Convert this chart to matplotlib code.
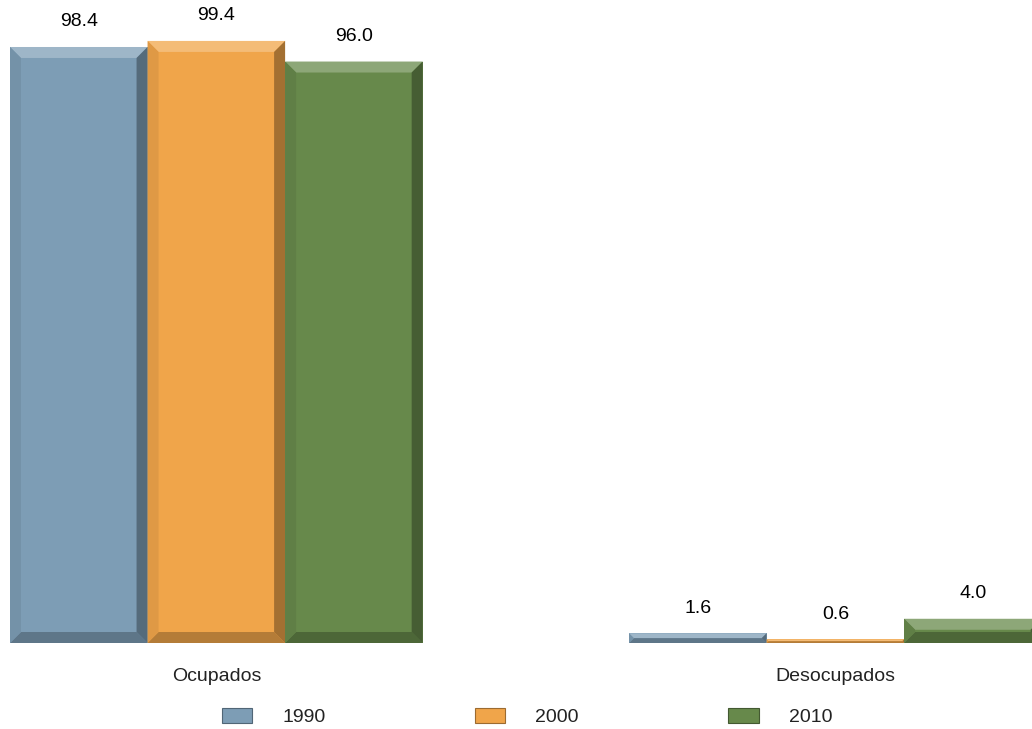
import matplotlib.pyplot as plt
from matplotlib.patches import Polygon, Patch
from matplotlib.colors import to_rgb
import numpy as np

plt.rcParams['font.family'] = ['Liberation Sans', 'DejaVu Sans']

# data
categories = ['Ocupados', 'Desocupados']
years = ['1990', '2000', '2010']
values = {
    '1990': [98.4, 1.6],
    '2000': [99.4, 0.6],
    '2010': [96.0, 4.0],
}
colors = {'1990': '#7d9db5', '2000': '#f0a54a', '2010': '#67894b'}


def shade(c, f):
    r = np.array(to_rgb(c))
    if f > 1:
        return tuple(r + (1 - r) * (f - 1))
    return tuple(r * f)


fig = plt.figure(figsize=(10.32, 7.29), dpi=100)
ax = fig.add_axes([10 / 1032, 86 / 729, 1022 / 1032, 643 / 729])

width = 1 / 4.5
x = np.arange(len(categories))
ax.set_xlim(-1.5 * width, -1.5 * width + 1022 / 619)
ax.set_ylim(0, 643 / 6.057)

# bevel size in data units (about 11 px)
bx = 11 / 619
by = 11 / 6.057

for i, yr in enumerate(years):
    xs = x + (i - 1) * width
    bars = ax.bar(xs, values[yr], width, color=colors[yr], linewidth=0)
    for rect, v in zip(bars, values[yr]):
        x0 = rect.get_x()
        x1 = x0 + rect.get_width()
        h = rect.get_height()
        b = min(by, h / 2)
        bxx = bx * b / by
        c = colors[yr]
        # top bevel
        ax.add_patch(Polygon([(x0, h), (x1, h), (x1 - bxx, h - b), (x0 + bxx, h - b)],
                             closed=True, color=shade(c, 1.25), lw=0))
        # bottom bevel
        ax.add_patch(Polygon([(x0, 0), (x1, 0), (x1 - bxx, b), (x0 + bxx, b)],
                             closed=True, color=shade(c, 0.75), lw=0))
        # left side
        ax.add_patch(Polygon([(x0, 0), (x0 + bxx, b), (x0 + bxx, h - b), (x0, h)],
                             closed=True, color=shade(c, 0.93), lw=0))
        # right side
        ax.add_patch(Polygon([(x1, 0), (x1 - bxx, b), (x1 - bxx, h - b), (x1, h)],
                             closed=True, color=shade(c, 0.68), lw=0))
        ax.annotate(f'{v:.1f}', (rect.get_x() + rect.get_width() / 2, h),
                    xytext=(0, 18), textcoords='offset points',
                    ha='center', va='center', fontsize=14, color='black')

for s in ax.spines.values():
    s.set_visible(False)
ax.set_yticks([])
ax.set_xticks(x)
ax.set_xticklabels(categories, fontsize=14, color='#222222')
ax.tick_params(axis='x', length=0, pad=18)

handles = [Patch(facecolor=colors[yr], edgecolor=shade(colors[yr], 0.65), linewidth=0.8)
           for yr in years]
fig.legend(handles, years, loc='center', bbox_to_anchor=(527 / 1032, 1 - 717 / 729),
           ncol=3, frameon=False, fontsize=14, handlelength=1.55, handleheight=0.85,
           handletextpad=1.55, columnspacing=7.7, labelcolor='#222222')

fig.savefig('out.png', dpi=100)
